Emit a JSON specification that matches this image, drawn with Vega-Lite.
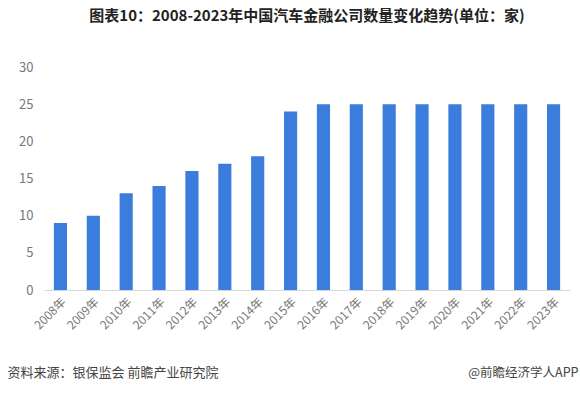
{
  "$schema": "https://vega.github.io/schema/vega-lite/v6.json",
  "width": 526,
  "height": 223,
  "autosize": "none",
  "padding": {"left": 44, "top": 67, "right": 10, "bottom": 104},
  "background": "white",
  "config": {"view": {"stroke": null}, "font": "Noto Sans CJK SC"},
  "title": {
    "text": "图表10：2008-2023年中国汽车金融公司数量变化趋势(单位：家)",
    "anchor": "middle",
    "frame": "group",
    "offset": 37,
    "fontSize": 15,
    "fontWeight": "bold",
    "color": "#222222",
    "font": "Noto Sans CJK SC"
  },
  "data": {
    "values": [
      {"year": "2008年", "count": 9},
      {"year": "2009年", "count": 10},
      {"year": "2010年", "count": 13},
      {"year": "2011年", "count": 14},
      {"year": "2012年", "count": 16},
      {"year": "2013年", "count": 17},
      {"year": "2014年", "count": 18},
      {"year": "2015年", "count": 24},
      {"year": "2016年", "count": 25},
      {"year": "2017年", "count": 25},
      {"year": "2018年", "count": 25},
      {"year": "2019年", "count": 25},
      {"year": "2020年", "count": 25},
      {"year": "2021年", "count": 25},
      {"year": "2022年", "count": 25},
      {"year": "2023年", "count": 25}
    ]
  },
  "mark": {"type": "bar", "color": "#3a7ddc"},
  "encoding": {
    "x": {
      "field": "year",
      "type": "nominal",
      "sort": null,
      "scale": {"paddingInner": 0.6, "paddingOuter": 0.3},
      "axis": {
        "title": "资料来源：银保监会 前瞻产业研究院",
        "titleAnchor": "start",
        "titleAlign": "left",
        "titleX": -37,
        "titleY": 82,
        "titleBaseline": "middle",
        "titleFontSize": 13,
        "titleFontWeight": "normal",
        "titleColor": "#444444",
        "labelAngle": -45,
        "labelFontSize": 12,
        "labelColor": "#777777",
        "ticks": false,
        "labelPadding": 6,
        "domainColor": "#d9d9d9",
        "grid": false
      }
    },
    "y": {
      "field": "count",
      "type": "quantitative",
      "scale": {"domain": [0, 30]},
      "axis": {
        "values": [0, 5, 10, 15, 20, 25, 30],
        "title": "@前瞻经济学人APP",
        "titleAngle": 0,
        "titleAlign": "right",
        "titleAnchor": null,
        "titleX": 534,
        "titleY": 305,
        "titleBaseline": "middle",
        "titleFontSize": 12.5,
        "titleFontWeight": "normal",
        "titleColor": "#444444",
        "labelFontSize": 13,
        "labelColor": "#777777",
        "labelPadding": 11,
        "ticks": false,
        "domain": false,
        "grid": false
      }
    }
  }
}
